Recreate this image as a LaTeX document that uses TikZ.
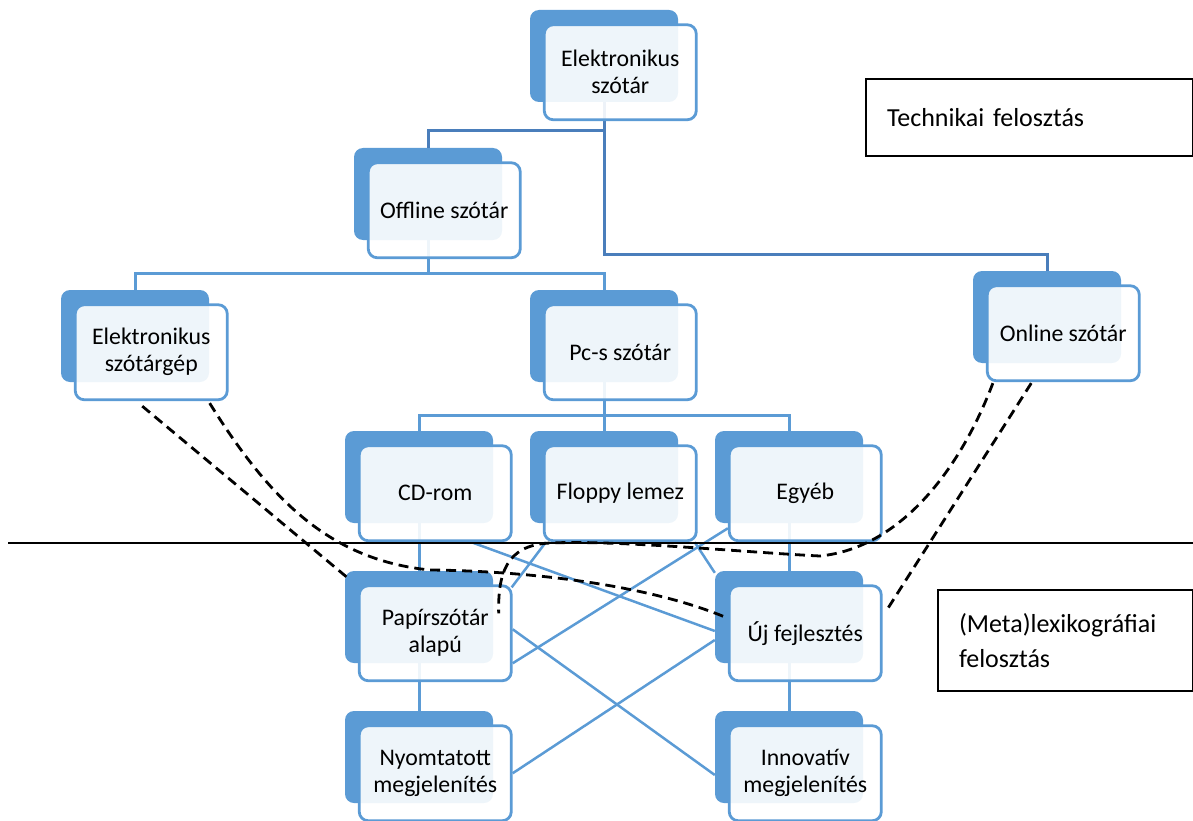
\documentclass[tikz,border=0pt]{standalone}
\usepackage{fontspec}
\setmainfont{Carlito}
\usepackage{tikz}
\usetikzlibrary{calc,positioning}
\definecolor{sablue}{RGB}{91,155,213}
\definecolor{sadark}{RGB}{74,126,187}
\tikzstyle{backrect} = [rectangle, fill=sablue, rounded corners=9pt, minimum width=148pt, minimum height=92pt, inner sep=0pt]
\tikzstyle{frontrect} = [rectangle, draw=sablue, line width=2.8pt, fill=white, fill opacity=0.9, text opacity=1, rounded corners=9pt, minimum width=152pt, minimum height=95pt, inner sep=0pt, align=center, font=\fontsize{23.8}{27}\selectfont]
\tikzstyle{tree} = [draw=sablue, line width=3pt]
\tikzstyle{cross} = [draw=sablue, line width=2.5pt]
\tikzstyle{dline} = [draw=black, line width=2.8pt, dash pattern=on 10pt off 6pt]
\tikzstyle{note} = [rectangle, draw=black, line width=2pt, inner xsep=21pt, inner ysep=0pt, align=left, anchor=north west, font=\fontsize{26}{35}\selectfont]

\begin{document}
\begin{tikzpicture}[x=1pt, y=-1pt, node distance=23pt]

\useasboundingbox (0,0) rectangle (1193,821);

\node (node0s) [backrect] at (604,56) {};
\node (node00s) [backrect] at (428,194) {};
\node (node01s) [backrect] at (1047,317) {};
\node (node000s) [backrect] at (135,336) {};
\node (node001s) [backrect] at (604,336) {};
\node (node0010s) [backrect] at (419,477) {};
\node (node0011s) [backrect] at (604,477) {};
\node (node0012s) [backrect] at (789,477) {};
\node (nodeAs) [backrect] at (419,617) {};
\node (nodeBs) [backrect] at (789,617) {};
\node (nodeA0s) [backrect] at (419,757) {};
\node (nodeB0s) [backrect] at (789,757) {};

\path [tree, draw=sadark] (node0s.south) |- ($(node00s.north)+(0,-17)$) -| (node00s.north);
\path [tree, draw=sadark] (node0s.south) |- ($(node01s.north)+(0,-16)$) -- (node01s.north);
\path [tree] (node00s.south) |- ($(node000s.north)+(0,-16)$) -- (node000s.north);
\path [tree] (node00s.south) |- ($(node001s.north)+(0,-16)$) -- (node001s.north);
\path [tree] (node001s.south) |- ($(node0010s.north)+(0,-15)$) -- (node0010s.north);
\path [tree] (node001s.south) -- (node0011s.north);
\path [tree] (node001s.south) |- ($(node0012s.north)+(0,-15)$) -- (node0012s.north);
\path [tree] (node0010s.south) -- (nodeAs.north);
\path [tree] (node0012s.south) -- (nodeBs.north);
\path [tree] (nodeAs.south) -- (nodeA0s.north);
\path [tree] (nodeBs.south) -- (nodeB0s.north);

\node (node0) [frontrect, below right of=node0s] {Elektronikus\\szótár};
\node (node00) [frontrect, below right of=node00s] {Offline szótár};
\node (node01) [frontrect, below right of=node01s] {Online szótár};
\node (node000) [frontrect, below right of=node000s] {Elektronikus\\szótárgép};
\node (node001) [frontrect, below right of=node001s] {Pc-s szótár};
\node (node0010) [frontrect, below right of=node0010s] {CD-rom};
\node (node0011) [frontrect, below right of=node0011s] {Floppy lemez};
\node (node0012) [frontrect, below right of=node0012s] {Egyéb};
\node (nodeA) [frontrect, below right of=nodeAs] {Papírszótár\\alapú};
\node (nodeB) [frontrect, below right of=nodeBs] {Új fejlesztés};
\node (nodeA0) [frontrect, below right of=nodeA0s] {Nyomtatott\\megjelenítés};
\node (nodeB0) [frontrect, below right of=nodeB0s] {Innovatív\\megjelenítés};

\path [cross] ($(node0010.south)+(36,0)$) -- ($(nodeBs.west)+(0,14)$);
\path [cross] ($(node0011.south west)+(3,0)$) -- ($(nodeA.north east)+(-1,3)$);
\path [cross] ($(node0012.west)+(0,35)$) -- ($(nodeA.east)+(0,30)$);
\path [cross] ($(node0011.south east)+(-3,0)$) -- ($(nodeBs.north west)+(0,2)$);
\path [cross] ($(nodeA.east)+(0,-4)$) -- ($(nodeB0s.west)+(0,18)$);
\path [cross] (nodeA0.east) -- ($(nodeBs.west)+(0,23)$);

\coordinate (ruleL) at (8,543);
\coordinate (ruleR) at (1193,543);
\path [draw=black, line width=2pt] (ruleL) -- (ruleR);

\path [dline] ($(node000.south)+(-9,5)$) -- ($(nodeAs.north west)+(4,8)$);
\path [dline] ($(node000.south east)+(-19,2)$) .. controls (270,500) and (330,560) .. (430,570) .. controls (530,571) and (650,585) .. ($(nodeB.west)+(0,-15)$);
\path [dline] ($(node01.south west)+(7,1)$) .. controls (960,470) and (900,548) .. (820,556) .. controls (740,552) and (620,540) .. (550,543) .. controls (505,545) and (498,575) .. ($(nodeA.east)+(-14,-20)$);
\path [dline] ($(node01.south)+(-32,1)$) -- ($(nodeB.east)+(4,-23)$);

\node (tech) [note, minimum width=327pt, minimum height=77pt, text width=285pt] at (865,78) {Technikai felosztás};
\node (meta) [note, minimum width=255pt, minimum height=101pt, text width=213pt] at (937,589) {(Meta)lexikográfiai\\felosztás};

\end{tikzpicture}
\end{document}
